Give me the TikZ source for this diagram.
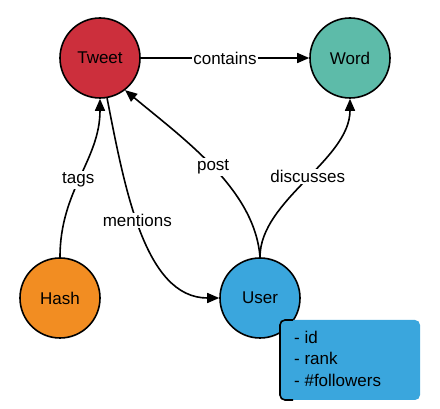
\documentclass[tikz,border=0pt]{standalone}
\usepackage{fontspec}
\setmainfont{Liberation Sans}
\usetikzlibrary{arrows.meta}
\definecolor{tweetc}{HTML}{CC2F3C}
\definecolor{wordc}{HTML}{5DBBA9}
\definecolor{hashc}{HTML}{F28D22}
\definecolor{userc}{HTML}{3AA6DD}
\tikzset{
  ent/.style={circle, draw=black, line width=1.6pt, minimum size=80pt, inner sep=0pt, font=\fontsize{17}{20}\selectfont},
  edge/.style={line width=1.6pt, -{Triangle[length=12pt,width=10pt]}},
  lbl/.style={fill=white, inner sep=1.5pt, font=\fontsize{17}{20}\selectfont},
  notetxt/.style={anchor=west, inner sep=0pt, font=\fontsize{17}{20}\selectfont}
}
\begin{document}
\begin{tikzpicture}[x=1pt,y=-1pt]
\useasboundingbox (0,0) rectangle (440,409);
\node[ent, fill=tweetc] (tweet) at (100,58) {Tweet};
\node[ent, fill=wordc] (word) at (350,58) {Word};
\node[ent, fill=hashc] (hash) at (60,298) {Hash};
\node[ent, fill=userc] (user) at (260,298) {User};
% note box
\coordinate (nb1) at (280,320);
\coordinate (nb2) at (420,400);
\fill[userc, rounded corners=5pt] (nb1) rectangle (nb2);
\draw[line width=1.6pt, rounded corners=5pt] (293,320) -- (280,320) -- (280,400) -- (293,400);
\node[notetxt] (n1) at (294,337) {- id};
\node[notetxt] (n2) at (294,358) {- rank};
\node[notetxt] (n3) at (294,380) {- \#followers};
% edges
\draw[edge] (tweet) -- node[lbl] {contains} (word);
\draw[edge] (hash.north) .. controls (60,190) and (100,160) .. node[lbl, pos=0.47] {tags} (tweet.south);
\draw[edge] (tweet.-80) .. controls (125,190) and (145,298) .. node[lbl, pos=0.45] {mentions} (user.west);
\draw[edge] (user.north) .. controls (255,190) and (185,140) .. node[lbl, pos=0.5] {post} (tweet.-52);
\draw[edge] (user.north) .. controls (260,200) and (350,160) .. node[lbl, pos=0.52] {discusses} (word.south);
\end{tikzpicture}
\end{document}
